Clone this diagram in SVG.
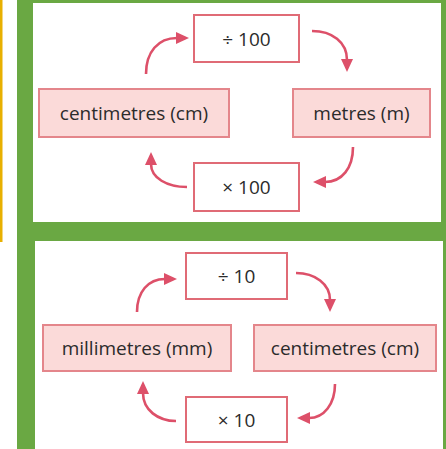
<svg xmlns="http://www.w3.org/2000/svg" width="446" height="449" viewBox="0 0 446 449">
<defs>
<style>
.bg{fill:#6aa843}
.panel{fill:#ffffff}
.unit{fill:#fbdad9;stroke:#e4868b;stroke-width:2}
.op{fill:#ffffff;stroke:#e06b76;stroke-width:2}
.t{font-family:"Open Sans","Noto Sans",sans-serif;font-size:19px;fill:#2b2b2b;text-anchor:middle;dominant-baseline:central}
.arr{fill:none;stroke:#dd5069;stroke-width:2.6;marker-end:url(#ah)}
</style>
<marker id="ah" markerUnits="userSpaceOnUse" viewBox="0 0 13 12" markerWidth="13" markerHeight="12" refX="1" refY="6" orient="auto">
<path d="M0,0 L13,6 L0,12 z" fill="#dd5069"/>
</marker>
</defs>
<rect x="0" y="0" width="446" height="449" fill="#ffffff"/>
<rect x="0" y="0" width="2.5" height="242" fill="#e8b000"/>
<rect class="bg" x="17" y="0" width="429" height="449"/>
<rect class="panel" x="33" y="3" width="408" height="219"/>
<rect class="panel" x="35" y="241" width="408" height="208"/>

<g id="p1-div">
<rect class="op" x="194" y="15" width="105" height="47"/>
<text class="t" x="246.5" y="38.5">÷ 100</text>
</g>
<g id="p1-cm">
<rect class="unit" x="39" y="89" width="190" height="48"/>
<text class="t" x="134" y="113">centimetres (cm)</text>
</g>
<g id="p1-m">
<rect class="unit" x="293" y="89" width="137" height="48"/>
<text class="t" x="361.5" y="113">metres (m)</text>
</g>
<g id="p1-mul">
<rect class="op" x="194" y="163" width="105" height="48"/>
<text class="t" x="246.5" y="187">× 100</text>
</g>

<g id="p2-div">
<rect class="op" x="186" y="253" width="101" height="46"/>
<text class="t" x="236.5" y="276">÷ 10</text>
</g>
<g id="p2-mm">
<rect class="unit" x="43" y="325" width="188" height="46"/>
<text class="t" x="137" y="348">millimetres (mm)</text>
</g>
<g id="p2-cm">
<rect class="unit" x="254" y="325" width="182" height="46"/>
<text class="t" x="345" y="348">centimetres (cm)</text>
</g>
<g id="p2-mul">
<rect class="op" x="186" y="397" width="101" height="45"/>
<text class="t" x="236.5" y="419.5">× 10</text>
</g>

<g id="connectors">
<path class="arr" d="M146,74 C146,52 158,38 177,38"/>
<path class="arr" d="M312,31 C332,31 347,42 347,60"/>
<path class="arr" d="M353,147 C353,168 342,182 325,182"/>
<path class="arr" d="M187,187 C167,187 151,178 151,164"/>
<path class="arr" d="M137,312 C137,292 148,279 165,279"/>
<path class="arr" d="M296,273 C315,273 330,284 330,300"/>
<path class="arr" d="M335,384 C335,404 324,418 309,418"/>
<path class="arr" d="M176,421 C158,421 143,410 143,393"/>
</g>
</svg>
